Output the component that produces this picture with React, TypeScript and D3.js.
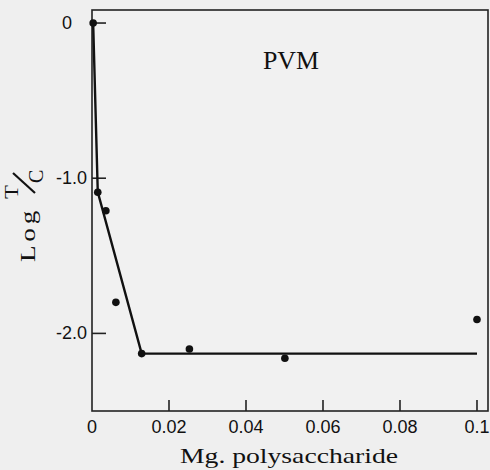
import React from "react";
import * as d3 from "d3";

const pointX = [0.0003, 0.0015, 0.0036, 0.0062, 0.0129, 0.0253, 0.0501, 0.1];
const pointY = [0, -1.09, -1.21, -1.8, -2.13, -2.1, -2.16, -1.91];
const fitX = [0.0003, 0.0015, 0.0129, 0.1];
const fitY = [0, -1.09, -2.13, -2.13];
const xTicks = [0, 0.02, 0.04, 0.06, 0.08, 0.1];
const xTickLabels = ["0", "0.02", "0.04", "0.06", "0.08", "0.1"];
const yTicks = [0, -1, -2];
const yTickLabels = ["0", "-1.0", "-2.0"];
const title = "PVM";
const xTitle = "Mg. polysaccharide";

export default function App() {
  const W = 490, H = 470;
  const left = 92, right = 488, top = 10, bottom = 411;
  const x = d3.scaleLinear().domain([0, 0.10286]).range([left, right]);
  const y = d3.scaleLinear().domain([-2.5, 0.084]).range([bottom, top]);
  const line = d3.line<number>().x((_, i) => x(fitX[i])).y((d) => y(d));
  const tickFont = "'Liberation Sans', Arial, sans-serif";
  const serif = "'Liberation Serif', 'DejaVu Serif', serif";
  return (
    <svg width={W} height={H} style={{ position: "absolute", left: 0, top: 0, background: "#efefef" }}>
      <rect x={0} y={0} width={W} height={H} fill="#efefef" />
      <rect x={left} y={top} width={right - left} height={bottom - top} fill="#f1f1f1" stroke="#222" strokeWidth={1.6} />
      {yTicks.map((t, i) => (
        <g key={"y" + i}>
          <line x1={left} x2={left + 14} y1={y(t)} y2={y(t)} stroke="#222" strokeWidth={1.6} />
          <text x={t === 0 ? 72 : 87} y={y(t) + 6} textAnchor="end" fontFamily={tickFont} fontSize={18} fill="#111">
            {yTickLabels[i]}
          </text>
        </g>
      ))}
      {xTicks.map((t, i) => (
        <g key={"x" + i}>
          {t !== 0 && <line x1={x(t)} x2={x(t)} y1={bottom - 11} y2={bottom} stroke="#222" strokeWidth={1.6} />}
          <text x={x(t)} y={433} textAnchor="middle" fontFamily={tickFont} fontSize={18} fill="#111">
            {xTickLabels[i]}
          </text>
        </g>
      ))}
      <path d={line(fitY) || ""} fill="none" stroke="#111" strokeWidth={2.4} />
      {pointX.map((px, i) => (
        <circle key={"p" + i} cx={x(px)} cy={y(pointY[i])} r={3.8} fill="#111" />
      ))}
      <text x={263} y={69} fontFamily={serif} fontSize={25} fill="#111" textLength={56} lengthAdjust="spacingAndGlyphs">
        {title}
      </text>
      <text x={180} y={463} fontFamily={serif} fontSize={22} fill="#111" textLength={218} lengthAdjust="spacingAndGlyphs">
        {xTitle}
      </text>
      <g fontFamily={serif} fill="#111">
        <text transform="translate(35,262) rotate(-90)" fontSize={22} letterSpacing={3} textLength={55} lengthAdjust="spacingAndGlyphs">Log</text>
        <text transform="translate(18,199) rotate(-90)" fontSize={18} textLength={14} lengthAdjust="spacingAndGlyphs">T</text>
        <line x1={35} y1={193} x2={13} y2={173} stroke="#111" strokeWidth={2.2} />
        <text transform="translate(43,183) rotate(-90)" fontSize={20}>C</text>
      </g>
    </svg>
  );
}
